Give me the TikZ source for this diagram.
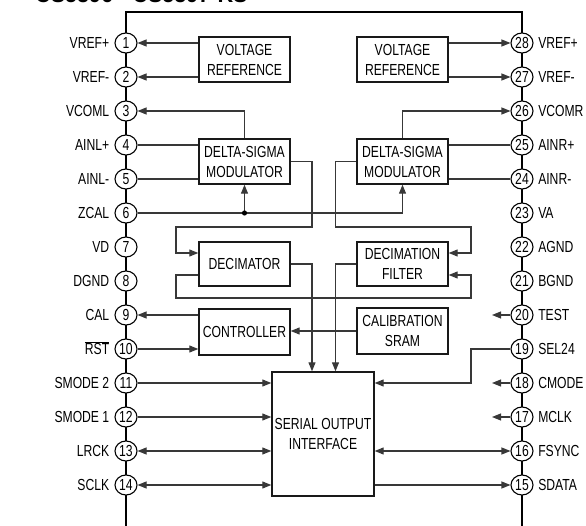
\documentclass[tikz,border=0pt]{standalone}
\usepackage{fontspec}
\setmainfont[FakeStretch=0.76]{Liberation Sans}
\newfontfamily\titlefont[FakeStretch=0.9]{Liberation Sans}
\usetikzlibrary{arrows.meta,shapes.geometric}
\begin{document}
\begin{tikzpicture}[x=1pt,y=-1pt,
  font=\fontsize{16}{20}\selectfont,
  conn/.style={draw=black!78, line width=1.1pt},
  arr/.style={-{Triangle[length=9pt,width=7pt]}},
  darr/.style={{Triangle[length=9pt,width=7pt]}-{Triangle[length=9pt,width=7pt]}},
  blk/.style={draw=black!90, line width=1.4pt, fill=white, minimum width=91pt,
              minimum height=45pt, inner sep=0pt, align=center},
  pinc/.style={ellipse, draw=black, line width=1.1pt, fill=white, minimum width=22pt,
               minimum height=20pt, inner sep=0pt, text height=11pt, text depth=0pt},
  lblL/.style={anchor=east, inner sep=0pt, text height=11.5pt, text depth=0pt, xshift=-5pt},
  lblR/.style={anchor=west, inner sep=0pt, text height=11.5pt, text depth=0pt, xshift=4.5pt},
  outl/.style={line width=2.2pt, draw=black}]
\useasboundingbox (0,0) rectangle (586,526);
\clip (0,0) rectangle (586,526);

% title (cut off at the top)
\node[anchor=base west, inner sep=0pt, font=\titlefont\bfseries\fontsize{24}{28}\selectfont]
  (title) at (35,2.6) {CS5396 - CS5397-KS};

% chip outline
\coordinate (cBL) at (126,532);
\coordinate (cTL) at (126,12);
\coordinate (cTR) at (522,12);
\coordinate (cBR) at (522,532);
\draw[outl] (cBL) -- (cTL) -- (cTR) -- (cBR);

% pins
\foreach \i/\lab in {1/VREF+,2/VREF-,3/VCOML,4/AINL+,5/AINL-,6/ZCAL,7/VD,8/DGND,9/CAL,
    10/{$\overline{\mbox{RST}}$},11/SMODE 2,12/SMODE 1,13/LRCK,14/SCLK}{
  \node[pinc] (p\i) at (126,{43+34*(\i-1)}) {\i};
  \node[lblL] at (p\i.west) {\lab};
}
\foreach \i/\lab in {28/VREF+,27/VREF-,26/VCOMR,25/AINR+,24/AINR-,23/VA,22/AGND,21/BGND,
    20/TEST,19/SEL24,18/CMODE,17/MCLK,16/FSYNC,15/SDATA}{
  \node[pinc] (p\i) at (522,{43+34*(28-\i)}) {\i};
  \node[lblR] at (p\i.east) {\lab};
}

% blocks
\node[blk] (vrefL) at (244.5,59.5) {VOLTAGE\\REFERENCE};
\node[blk] (vrefR) at (402.5,59.5) {VOLTAGE\\REFERENCE};
\node[blk] (dsL) at (244.5,161.5) {DELTA-SIGMA\\MODULATOR};
\node[blk] (dsR) at (402.5,161.5) {DELTA-SIGMA\\MODULATOR};
\node[blk, minimum height=44pt] (dec) at (244.5,264) {DECIMATOR};
\node[blk, minimum height=44pt] (decf) at (402.5,264) {DECIMATION\\FILTER};
\node[blk, minimum height=46pt] (ctrl) at (244.5,332) {CONTROLLER};
\node[blk, minimum height=46pt] (sram) at (402.5,331) {CALIBRATION\\SRAM};
\node[blk, minimum width=102pt, minimum height=124pt] (soi) at (323,434) {SERIAL OUTPUT\\INTERFACE};

% helper coordinates
\coordinate (xa) at (312,0);
\coordinate (xb) at (335.5,0);
\coordinate (xL) at (176,0);
\coordinate (xR) at (471,0);
\coordinate (xT) at (492,0);
\coordinate (yA) at (0,227);
\coordinate (yIn) at (0,253);
\coordinate (yOut) at (0,275);
\coordinate (yB) at (0,298);
\coordinate (zdot) at (dsL.south |- p6);

% voltage references
\draw[conn,arr] (vrefL.west |- p1) -- (p1);
\draw[conn,arr] (vrefL.west |- p2) -- (p2);
\draw[conn,arr] (vrefR.east |- p28) -- (p28);
\draw[conn,arr] (vrefR.east |- p27) -- (p27);

% modulators
\draw[conn,arr] (dsL.north) |- (p3);
\draw[conn,arr] (dsR.north) |- (p26);
\draw[conn] (p4) -- (dsL.west |- p4);
\draw[conn] (p5) -- (dsL.west |- p5);
\draw[conn] (p25) -- (dsR.east |- p25);
\draw[conn] (p24) -- (dsR.east |- p24);
\draw[conn,arr] (p6) -| (dsR.south);
\draw[conn,arr] (zdot) -- (dsL.south);
\fill[black] (zdot) circle (2.6pt);

% modulator outputs to decimation
\draw[conn,arr] (dsL.east) -| (xa |- yA) -| (xL |- yIn) -- (dec.west |- yIn);
\draw[conn,arr] (dsR.west) -| (xb |- yA) -| (xR |- yIn) -- (decf.east |- yIn);
\draw[conn,arr] (dec.west |- yOut) -| (xL |- yB) -| (xR |- yOut) -- (decf.east |- yOut);
\draw[conn,arr] (dec.east) -| (soi.north -| xa);
\draw[conn,arr] (decf.west) -| (soi.north -| xb);

% controller
\draw[conn,arr] (ctrl.west |- p9) -- (p9);
\draw[conn,arr] (p10) -- (ctrl.west |- p10);
\draw[conn,arr] (sram.west) -- (ctrl.east |- sram.west);

% serial interface
\draw[conn,arr] (p11) -- (soi.west |- p11);
\draw[conn,arr] (p12) -- (soi.west |- p12);
\draw[conn,darr] (p13) -- (soi.west |- p13);
\draw[conn,darr] (p14) -- (soi.west |- p14);
\draw[conn,arr] (p19) -| (xR |- p18) -- (soi.east |- p18);
\draw[conn,darr] (soi.east |- p16) -- (p16);
\draw[conn,arr] (soi.east |- p15) -- (p15);

% inputs on the right
\draw[conn,arr] (p20) -- (xT |- p20);
\draw[conn,arr] (p18) -- (xT |- p18);
\draw[conn,arr] (p17) -- (xT |- p17);
\end{tikzpicture}
\end{document}
